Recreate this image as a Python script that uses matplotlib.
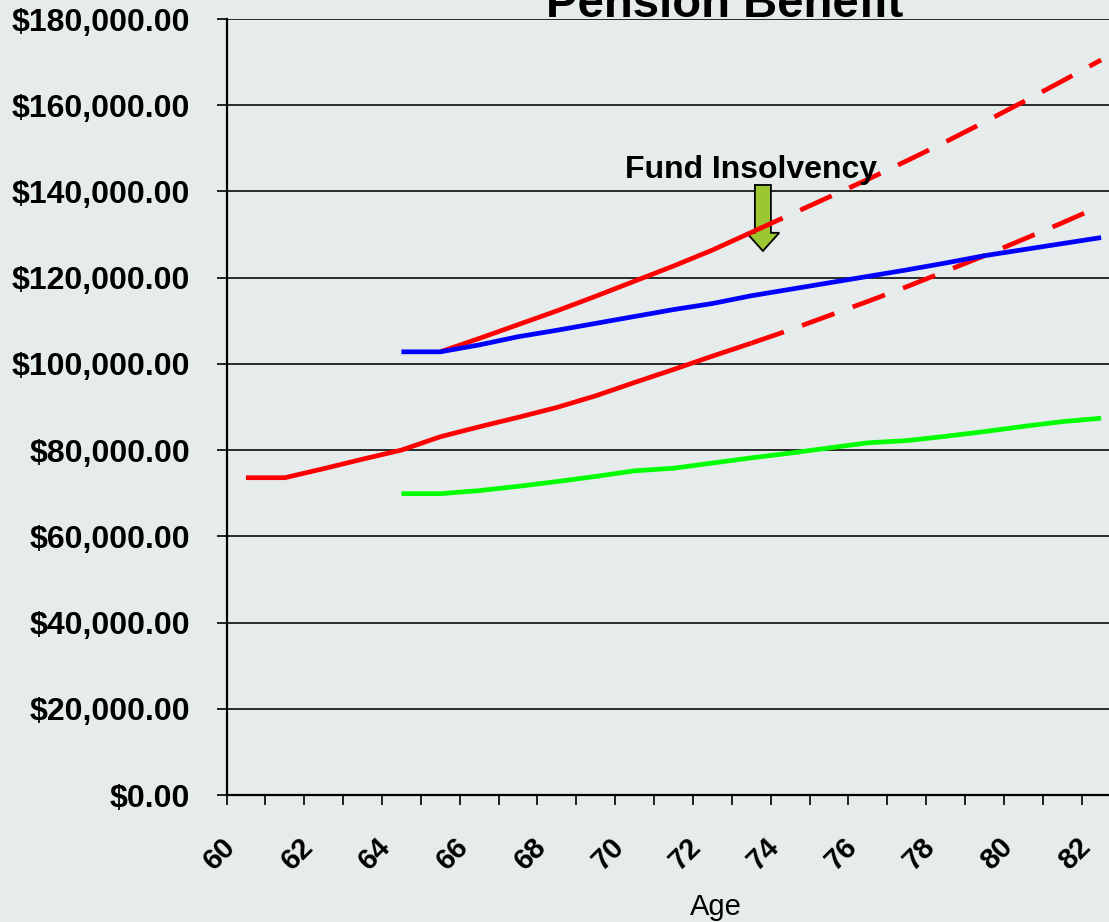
# -*- coding: utf-8 -*-
"""
Pension benefit by age, with the fund insolvency marker.
"""

import matplotlib
matplotlib.use("Agg")
import matplotlib.pyplot as plt
from matplotlib.patches import Polygon
from matplotlib.ticker import FuncFormatter, FixedLocator
from matplotlib.transforms import ScaledTranslation


# ---------- data (thousands of dollars) ----------
ages_low = [60, 61, 62, 63, 64, 65, 66, 67, 68, 69, 70, 71, 72, 73]
benefit_low = [73.6, 73.6, 75.7, 77.9, 80.0, 83.1, 85.4, 87.6, 89.9,
               92.6, 95.7, 98.7, 101.8, 104.8]

ages_low_proj = [73, 74, 75, 76, 77, 78, 79, 80, 81, 82]
benefit_low_proj = [104.8, 107.9, 111.2, 114.5, 117.9, 121.5, 125.1,
                    128.9, 132.7, 136.7]

ages_high = [65, 66, 67, 68, 69, 70, 71, 72, 73]
benefit_high = [102.8, 105.9, 109.1, 112.3, 115.7, 119.2, 122.7, 126.4,
                130.5]

ages_high_proj = [73, 74, 75, 76, 77, 78, 79, 80, 81, 82]
benefit_high_proj = [130.5, 134.6, 138.7, 142.8, 147.1, 151.5, 156.1,
                     160.8, 165.6, 170.5]

ages_late = [64, 65, 66, 67, 68, 69, 70, 71, 72, 73, 74, 75, 76, 77, 78,
             79, 80, 81, 82]
benefit_blue = [102.8, 102.8, 104.4, 106.3, 107.8, 109.4, 111.0, 112.6,
                114.0, 115.8, 117.3, 118.8, 120.3, 121.8, 123.4, 125.1,
                126.5, 127.9, 129.3]
benefit_green = [69.9, 69.9, 70.6, 71.6, 72.7, 73.9, 75.2, 75.8, 77.0,
                 78.2, 79.3, 80.5, 81.7, 82.2, 83.2, 84.3, 85.5, 86.6, 87.4]

age_labels = [60, 62, 64, 66, 68, 70, 72, 74, 76, 78, 80, 82]
insolvency_age = 73.3


# ----------
def k(values):
    return [v * 1000 for v in values]


# ----------
def main():
    plt.rcParams["font.family"] = ["Liberation Sans", "DejaVu Sans"]
    bg = "#E6ECEC"

    W, H = 1109, 922
    fig = plt.figure(figsize=(W / 100, H / 100), dpi=100, facecolor=bg)

    # axes box in pixels: x 226.5 -> 1120.5 (cut by the figure edge), y 19 -> 795
    ax = fig.add_axes([226.5 / W, (H - 795) / H, 894 / W, 776 / H])
    ax.set_facecolor(bg)

    lw = 3.4
    dash = (7.3, 4.1)

    ax.plot(ages_low, k(benefit_low), color="red", lw=lw, zorder=3,
            solid_capstyle="butt")
    ax.plot(ages_low_proj, k(benefit_low_proj), color="red", lw=lw,
            dashes=dash, zorder=3)
    ax.plot(ages_high, k(benefit_high), color="red", lw=lw, zorder=3,
            solid_capstyle="butt")
    ax.plot(ages_high_proj, k(benefit_high_proj), color="red", lw=lw,
            dashes=dash, zorder=3)
    ax.plot(ages_late, k(benefit_blue), color="blue", lw=lw, zorder=4,
            solid_capstyle="butt")
    ax.plot(ages_late, k(benefit_green), color="#00FF00", lw=lw, zorder=3,
            solid_capstyle="butt")

    # ---- insolvency marker ----
    xc = insolvency_age
    shaft, head = 0.206, 0.42
    top, neck, tip = 141500, 130400, 126200
    arrow = Polygon([(xc - shaft, top), (xc + shaft, top), (xc + shaft, neck),
                     (xc + head, neck), (xc, tip), (xc - head, neck),
                     (xc - shaft, neck)], closed=True, facecolor="#9BC832",
                    edgecolor="black", lw=1.3, zorder=2.5)
    ax.add_patch(arrow)
    ax.text(73, 143100, "Fund Insolvency", ha="center", va="baseline",
            fontsize=23, fontweight="bold", zorder=5)

    # ---- axes ----
    ax.set_xlim(59.5, 82.5)
    ax.set_ylim(0, 180000)

    ax.set_yticks(range(0, 180001, 20000))
    ax.yaxis.set_major_formatter(FuncFormatter(lambda v, p: f"${v:,.2f}"))
    ax.tick_params(axis="y", direction="out", length=7.2, width=1.2,
                   pad=19, labelsize=23)
    for t in ax.get_yticklabels():
        t.set_fontweight("bold")

    ax.set_xticks(age_labels)
    ax.xaxis.set_minor_locator(FixedLocator([a - 0.5 for a in range(60, 84)]))
    ax.tick_params(axis="x", which="major", length=0, pad=34, labelsize=21)
    ax.tick_params(axis="x", which="minor", direction="out", length=7.2,
                   width=1.2)
    shift = ScaledTranslation(-0.15, 0, fig.dpi_scale_trans)
    for t in ax.get_xticklabels():
        t.set_fontweight("bold")
        t.set_rotation(45)
        t.set_ha("right")
        t.set_va("center")
        t.set_rotation_mode("anchor")
        t.set_transform(t.get_transform() + shift)

    ax.grid(axis="y", color="#1a1a1a", lw=1.3, zorder=1)
    ax.set_axisbelow(True)
    for side in ("top", "right"):
        ax.spines[side].set_visible(False)
    for side in ("left", "bottom"):
        ax.spines[side].set_linewidth(1.6)
        ax.spines[side].set_color("black")

    # ---- titles ----
    fig.text(725 / W, 1 - 17 / H, "Pension Benefit", ha="center",
             va="baseline", fontsize=34, fontweight="bold")
    fig.text(716 / W, 1 - 915 / H, "Age", ha="center", va="baseline",
             fontsize=21)

    fig.savefig("out.png", dpi=100, facecolor=bg)


# ----------
if __name__ == "__main__":
    main()
